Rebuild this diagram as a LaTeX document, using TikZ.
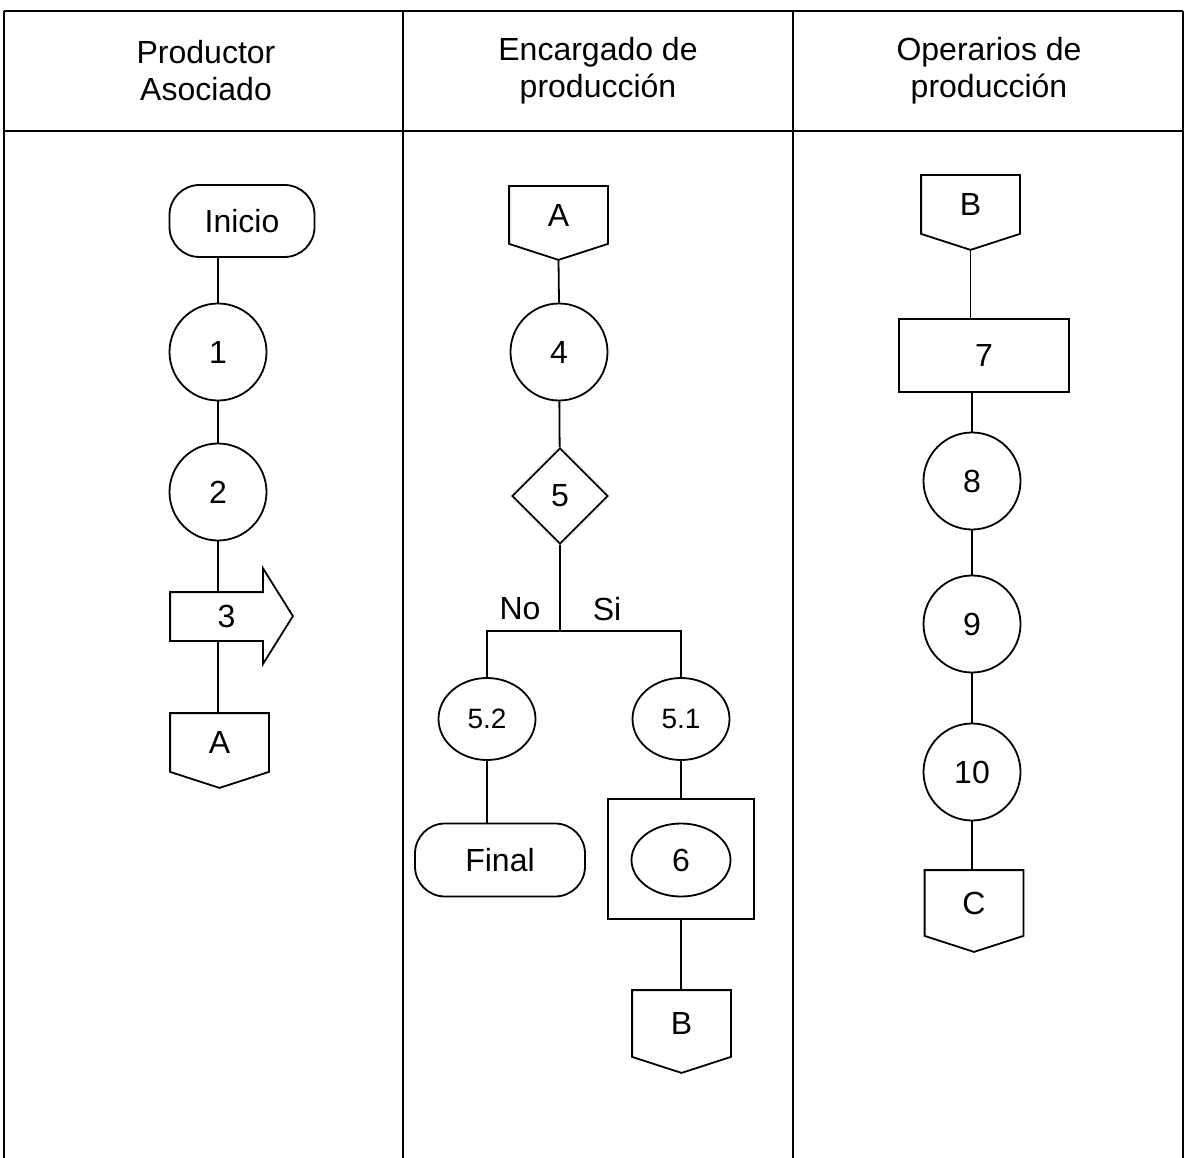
\documentclass[tikz,border=0pt]{standalone}
\usepackage{fontspec}
\setmainfont{Liberation Sans}
\usetikzlibrary{shapes.geometric, positioning}

\begin{document}
\begin{tikzpicture}[x=1pt, y=-1pt, line width=1.8pt,
    every node/.style={font=\fontsize{32}{37}\selectfont},
    head/.style={align=center},
    term/.style={draw, rectangle, rounded corners=30pt, minimum height=72pt, inner sep=0pt},
    circ/.style={draw, circle, minimum size=97pt, inner sep=0pt},
    caja/.style={draw, rectangle, minimum width=170pt, minimum height=73pt, inner sep=0pt},
    decision/.style={draw, diamond, minimum size=96pt, inner sep=0pt},
    elip/.style={draw, ellipse, minimum width=97pt, minimum height=82pt, inner sep=0pt, font=\fontsize{28}{32}\selectfont},
    conector/.style={minimum width=97pt, minimum height=#1, inner sep=0pt},
    conector/.default=57pt,
    flecha/.style={minimum width=91pt, minimum height=47pt, inner sep=0pt}
]
\useasboundingbox (0,0) rectangle (1185,1158);

% Frame
\foreach \x in {4,403,793,1183} \draw (\x,11) -- (\x,1158);
\draw (4,11) -- (1183,11);
\draw (4,131) -- (1183,131);

% Headers
\node[head] (h1) at (206,70.5) {Productor\\Asociado};
\node[head] (h2) at (598,70.5) {Encargado de\\producci\'on};
\node[head] (h3) at (989,70.5) {Operarios de\\producci\'on};

% Productor Asociado
\node[term, minimum width=145pt] (ini) at (242,221) {Inicio};
\node[circ] (c1) at (218,352) {1};
\node[circ] (c2) at (218,492) {2};
\node[flecha, label={[xshift=10pt]center:3}] (p3) at (216.5,616.5) {};
\node[conector] (A1) at (219.5,742.5) {A};

% Encargado de produccion
\node[conector=56pt] (A2) at (558.5,215) {A};
\node[circ] (c4) at (559,352) {4};
\node[decision] (d5) at (560,496) {5};
\coordinate (j5) at (560,631);
\node (lno) at (520,609) {No};
\node (lsi) at (607,609) {Si};
\node[elip] (e52) at (487,719) {5.2};
\node[elip] (e51) at (681,719) {5.1};
\node[term, minimum width=170pt, minimum height=73pt] (fin) at (500,860) {Final};
\node[draw, minimum width=146pt, minimum height=120pt] (b6) at (681,859) {};
\node[draw, ellipse, minimum width=99pt, minimum height=73pt, inner sep=0pt] (e6) at (681,860) {6};
\node[conector=65pt] (B2) at (681.5,1023.5) {B};

% Operarios de produccion
\node[conector] (B3) at (970.5,204.5) {B};
\node[caja] (b7) at (984,355.5) {7};
\node[circ] (c8) at (972,481) {8};
\node[circ] (c9) at (972,624) {9};
\node[circ] (c10) at (972,772) {10};
\node[conector=64pt] (C3) at (974,903) {C};

% Off-page connectors and arrow
\foreach \n in {A1,A2,B2,B3,C3}
  \draw (\n.north west) -- (\n.north east) -- (\n.south east) -- ([yshift=-16pt]\n.south) -- (\n.south west) -- cycle;
\draw (p3.south west) -- (p3.north west) -- (p3.north east) -- ++(0,-24) -- ++(30,48) -- ++(-30,48) -- (p3.south east) -- cycle;

% Connectors
\draw (ini.south -| c1) -- (c1.north);
\draw (c1) -- (c2);
\draw (c2.south) -- (c2.south |- p3.north);
\draw (p3.south -| c2) -- (A1.north -| c2);

\draw ([yshift=-16pt]A2.south) -- (c4.north);
\draw (c4) -- (d5);
\draw (d5.south) -- (j5);
\draw (e52.north) |- (j5) -| (e51.north);
\draw (e52.south) -- (e52.south |- fin.north);
\draw (e51) -- (b6);
\draw (b6.south) -- (b6.south |- B2.north);

\draw ([yshift=-16pt]B3.south) -- (B3.south |- b7.north);
\draw (b7.south -| c8) -- (c8.north);
\draw (c8) -- (c9);
\draw (c9) -- (c10);
\draw (c10.south) -- (c10.south |- C3.north);

\end{tikzpicture}
\end{document}
